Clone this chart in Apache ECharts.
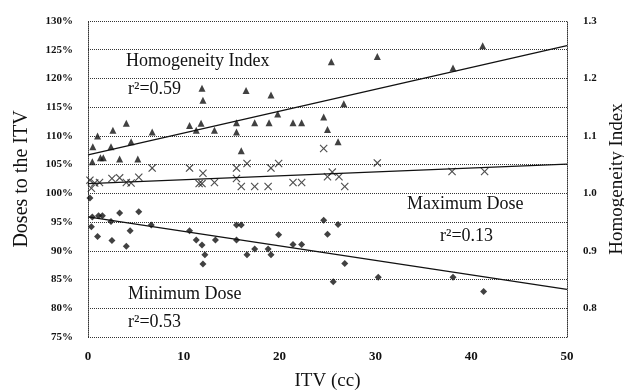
<!DOCTYPE html>
<html>
<head>
<meta charset="utf-8">
<script src="https://cdn.jsdelivr.net/npm/echarts@6/dist/echarts.min.js"></script>
<style>
  html, body { margin: 0; padding: 0; background: #fff; }
  #chart { width: 624px; height: 391px; }
</style>
</head>
<body>
<div id="chart"></div>
<script>
// ITV volume (cc) and homogeneity index per case (triangles, right axis)
const hiITV = [0.5, 0.45, 1.0, 1.3, 1.6, 2.4, 2.6, 3.3, 4.0, 4.5, 5.2, 6.7, 10.6, 11.3, 11.8, 11.9, 12.0, 13.2,
  15.5, 15.5, 16.0, 16.5, 17.4, 18.9, 19.1, 19.8, 21.4, 22.3, 24.6, 25.0, 25.4, 26.1, 26.7, 30.2, 38.1, 41.2];
const hiValues = [1.081, 1.055, 1.100, 1.062, 1.062, 1.081, 1.110, 1.060, 1.122, 1.090, 1.060, 1.107, 1.118, 1.110,
  1.122, 1.183, 1.162, 1.110, 1.123, 1.107, 1.074, 1.179, 1.123, 1.123, 1.171, 1.138, 1.123, 1.123, 1.133, 1.111,
  1.229, 1.090, 1.156, 1.238, 1.218, 1.257];

// Maximum dose to the ITV (%), crosses
const maxITV = [0.2, 0.35, 0.7, 1.2, 2.5, 3.3, 4.0, 4.5, 5.3, 6.7, 10.6, 11.6, 11.9, 12.0, 13.2, 15.5, 15.5, 16.0,
  16.6, 17.4, 18.8, 19.1, 19.9, 21.4, 22.3, 24.6, 25.0, 25.5, 26.2, 26.8, 30.2, 38.0, 41.4];
const maxDose = [102.3, 100.9, 101.8, 101.9, 102.6, 102.7, 101.9, 101.8, 102.8, 104.4, 104.4, 101.7, 101.7, 103.5,
  101.9, 104.4, 102.6, 101.2, 105.2, 101.2, 101.2, 104.4, 105.2, 101.9, 101.9, 107.8, 102.9, 103.7, 102.9, 101.2,
  105.3, 103.8, 103.8];

// Minimum dose to the ITV (%), filled markers
const minITV = [0.2, 0.45, 0.35, 1.1, 1.5, 1.0, 2.4, 2.5, 3.3, 4.0, 4.4, 5.3, 6.6, 10.6, 11.3, 11.9, 12.2, 12.0,
  13.3, 15.5, 16.0, 15.5, 16.6, 17.4, 18.8, 19.1, 19.9, 21.4, 22.3, 24.6, 25.0, 25.6, 26.1, 26.8, 30.3, 38.1, 41.3];
const minDose = [99.2, 95.9, 94.2, 96.1, 96.1, 92.5, 95.1, 91.8, 96.6, 90.8, 93.5, 96.8, 94.5, 93.5, 91.9, 91.0,
  89.3, 87.7, 91.9, 94.5, 94.5, 91.9, 89.3, 90.3, 90.3, 89.3, 92.8, 91.1, 91.1, 95.3, 92.9, 84.6, 94.6, 87.8,
  85.4, 85.4, 82.9];

// Linear fits, given at ITV = 0 and ITV = 50
const fitITV = [0, 50];
const hiFit = [1.067, 1.257];
const maxFit = [101.7, 105.1];
const minFit = [95.9, 83.3];

// Tick settings
const xTicks = { min: 0, max: 50, interval: 10 };
const doseTicks = { min: 75, max: 130, interval: 5 };
const hiTicks = { min: 0.75, max: 1.3, interval: 0.05 };

const pairs = (xs, ys) => xs.map((x, i) => [x, ys[i]]);

const serif = 'Liberation Serif';
const tickFont = 'Liberation Sans Narrow';
const ink = '#111';
const dotted = { type: [1, 1], color: '#333', width: 1 };

const crossPath = 'path://M0,1 L1,0 L5,4 L9,0 L10,1 L6,5 L10,9 L9,10 L5,6 L1,10 L0,9 L4,5 Z';

const chart = echarts.init(document.getElementById('chart'), null, { renderer: 'canvas' });

chart.setOption({
  animation: false,
  backgroundColor: '#fff',
  grid: { left: 88, right: 57, top: 21, bottom: 54, containLabel: false, outerBoundsMode: 'none' },
  xAxis: {
    type: 'value',
    min: xTicks.min, max: xTicks.max, interval: xTicks.interval,
    name: 'ITV (cc)',
    nameLocation: 'middle',
    nameGap: 35,
    nameTextStyle: { fontFamily: serif, fontSize: 19, color: ink },
    axisLine: { show: false },
    axisTick: { show: false },
    splitLine: { show: false },
    axisLabel: { margin: 13, fontFamily: tickFont, fontWeight: 'bold', fontSize: 13, color: ink }
  },
  yAxis: [
    {
      type: 'value',
      position: 'left',
      min: doseTicks.min, max: doseTicks.max, interval: doseTicks.interval,
      name: 'Doses to the ITV',
      nameLocation: 'middle',
      nameGap: 56,
      nameTextStyle: { fontFamily: serif, fontSize: 20, color: ink },
      axisLine: { show: true, lineStyle: dotted },
      axisTick: { show: false },
      splitLine: { show: true, lineStyle: dotted },
      axisLabel: { margin: 15, fontFamily: tickFont, fontWeight: 'bold', fontSize: 11, color: ink, formatter: '{value}%' }
    },
    {
      type: 'value',
      position: 'right',
      min: hiTicks.min, max: hiTicks.max, interval: hiTicks.interval,
      name: 'Homogeneity Index',
      nameLocation: 'middle',
      nameGap: 37,
      nameTextStyle: { fontFamily: serif, fontSize: 19, color: ink },
      axisLine: { show: true, lineStyle: dotted },
      axisTick: { show: false },
      splitLine: { show: false },
      axisLabel: {
        margin: 16, fontFamily: tickFont, fontWeight: 'bold', fontSize: 11, color: ink,
        formatter: function (v) {
          const r = Math.round(v * 100);
          return r % 10 === 0 ? (r / 100).toFixed(1) : '';
        }
      }
    }
  ],
  series: [
    {
      name: 'Homogeneity Index',
      type: 'scatter',
      yAxisIndex: 1,
      symbol: 'triangle',
      symbolSize: 7,
      itemStyle: { color: ink },
      data: pairs(hiITV, hiValues)
    },
    {
      name: 'Maximum Dose',
      type: 'scatter',
      yAxisIndex: 0,
      symbol: crossPath,
      symbolSize: 8,
      itemStyle: { color: '#222' },
      data: pairs(maxITV, maxDose)
    },
    {
      name: 'Minimum Dose',
      type: 'scatter',
      yAxisIndex: 0,
      symbol: 'diamond',
      symbolSize: 7,
      itemStyle: { color: ink },
      data: pairs(minITV, minDose)
    },
    {
      type: 'line', yAxisIndex: 1, symbol: 'none', silent: true,
      lineStyle: { color: ink, width: 1.3 },
      data: pairs(fitITV, hiFit)
    },
    {
      type: 'line', yAxisIndex: 0, symbol: 'none', silent: true,
      lineStyle: { color: ink, width: 1.3 },
      data: pairs(fitITV, maxFit)
    },
    {
      type: 'line', yAxisIndex: 0, symbol: 'none', silent: true,
      lineStyle: { color: ink, width: 1.3 },
      data: pairs(fitITV, minFit)
    }
  ],
  graphic: [
    { type: 'text', left: 126, top: 52, style: { text: 'Homogeneity Index', font: '18px "Liberation Serif"', fill: ink } },
    { type: 'text', left: 128, top: 80, style: { text: 'r²=0.59', font: '18px "Liberation Serif"', fill: ink } },
    { type: 'text', left: 407, top: 195, style: { text: 'Maximum Dose', font: '18px "Liberation Serif"', fill: ink } },
    { type: 'text', left: 440, top: 227, style: { text: 'r²=0.13', font: '18px "Liberation Serif"', fill: ink } },
    { type: 'text', left: 128, top: 285, style: { text: 'Minimum Dose', font: '18px "Liberation Serif"', fill: ink } },
    { type: 'text', left: 128, top: 313, style: { text: 'r²=0.53', font: '18px "Liberation Serif"', fill: ink } }
  ]
});
</script>
</body>
</html>
